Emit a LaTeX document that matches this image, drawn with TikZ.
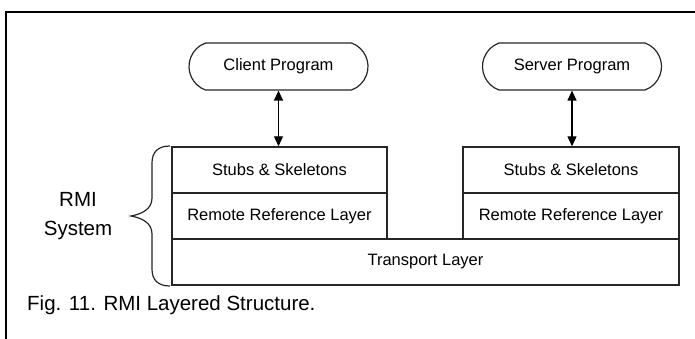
\documentclass[tikz,border=0pt]{standalone}
\usepackage{fontspec}
\setmainfont{Liberation Sans}
\usetikzlibrary{arrows.meta,shapes.misc}

\begin{document}
\begin{tikzpicture}[x=1pt,y=-1pt,
  layerbox/.style={draw=black!85, line width=1.4pt, minimum height=46pt,
    inner sep=0pt, font=\fontsize{16.5}{18}\selectfont},
  progbox/.style={draw=black!85, line width=1.2pt, rounded rectangle,
    rounded rectangle arc length=140, minimum width=179pt,
    minimum height=47pt, inner sep=0pt, font=\fontsize{16.5}{18}\selectfont},
  callarrow/.style={line width=1.2pt,
    {Triangle[length=10pt,width=9pt]}-{Triangle[length=10pt,width=9pt]}},
  bracepath/.style={draw=black!85, line width=1.2pt},
  framepath/.style={draw=black, line width=2.4pt}]

\useasboundingbox (0,0) rectangle (695,339);

% outer frame (left and top edges)
\draw[framepath] (6,339) -- (6,12) -- (695,12);

% application programs
\node[progbox] (client) at (278.5,66.5) {Client Program};
\node[progbox] (server) at (572,66.5) {Server Program};

% RMI layers, client side
\node[layerbox, minimum width=215pt] (cstub) at (279.5,170) {Stubs \& Skeletons};
\node[layerbox, minimum width=215pt] (cref) at (279.5,216) {Remote Reference Layer};

% RMI layers, server side
\node[layerbox, minimum width=216pt] (sstub) at (571,170) {Stubs \& Skeletons};
\node[layerbox, minimum width=216pt] (sref) at (571,216) {Remote Reference Layer};

% shared transport layer
\node[layerbox, minimum width=507pt] (transport) at (425.5,262) {Transport Layer};

% calls between programs and stubs
\draw[callarrow] (client.south) -- (client.south |- cstub.north);
\draw[callarrow] (server.south) -- (server.south |- sstub.north);

% brace grouping the RMI system
\draw[bracepath] (170,146) .. controls (158,146) and (152,152) .. (152,163)
  -- (152,198) .. controls (152,209) and (142,214) .. (131,216)
  .. controls (142,218) and (152,223) .. (152,234)
  -- (152,269) .. controls (152,280) and (158,286) .. (170,286);

\node[align=center, font=\fontsize{20.5}{29}\selectfont, inner sep=0pt]
  (rmi) at (78,216) {RMI\\System};

% caption
\node[anchor=base west, font=\fontsize{20.5}{24}\selectfont, inner sep=0pt]
  (caption) at (27,310) {Fig. 11. RMI Layered Structure.};
\end{tikzpicture}
\end{document}
